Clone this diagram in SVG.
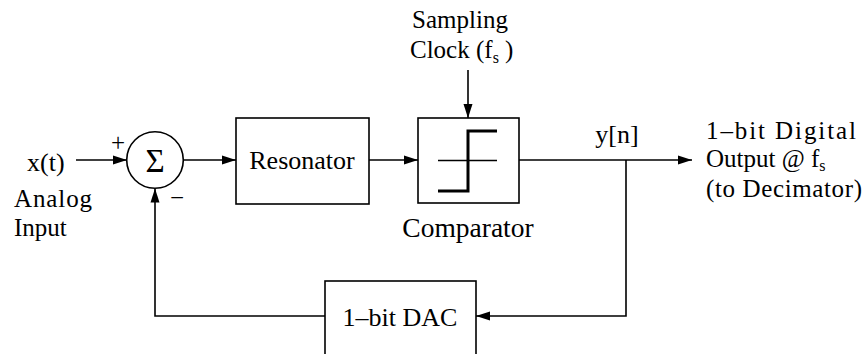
<svg xmlns="http://www.w3.org/2000/svg" width="865" height="354" viewBox="0 0 865 354">
<style>
text{font-family:"Liberation Serif","Times New Roman",serif;fill:#000;font-size:26px}
.lbl{font-size:25px}
.box{fill:#fff;stroke:#000;stroke-width:1.6}
.ln{fill:none;stroke:#000;stroke-width:1.6}
.mid{text-anchor:middle}
.sub{font-size:16px}
</style>
<defs>
<marker id="ah" markerUnits="userSpaceOnUse" markerWidth="16" markerHeight="10" refX="14" refY="5" orient="auto">
<path d="M0,0.5 L14,5 L0,9.5 Z" fill="#000"/>
</marker>
</defs>
<rect width="865" height="354" fill="#fff"/>
<g id="connectors">
<line class="ln" x1="76" y1="160" x2="127" y2="160" marker-end="url(#ah)"/>
<line class="ln" x1="183.5" y1="160" x2="236" y2="160" marker-end="url(#ah)"/>
<line class="ln" x1="369" y1="160" x2="418" y2="160" marker-end="url(#ah)"/>
<line class="ln" x1="468" y1="70" x2="468" y2="118" marker-end="url(#ah)"/>
<line class="ln" x1="519" y1="160" x2="692" y2="160" marker-end="url(#ah)"/>
<polyline class="ln" points="626,160 626,316 476,316" marker-end="url(#ah)"/>
<polyline class="ln" points="325,316 155,316 155,188.5" marker-end="url(#ah)"/>
</g>
<g id="input">
<text x="27" y="171">x(t)</text>
<text class="lbl" x="14" y="207" textLength="78">Analog</text>
<text class="lbl" x="14" y="236">Input</text>
</g>
<g id="sum">
<circle class="box" cx="155" cy="160" r="28.3"/>
<text class="mid" x="155" y="172" style="font-size:33px">Σ</text>
<text class="mid" x="118" y="151" style="font-size:25px">+</text>
<text class="mid" x="177" y="206" style="font-size:25px">−</text>
</g>
<g id="resonator">
<rect class="box" x="236" y="118" width="133" height="86"/>
<text class="mid" x="302" y="169">Resonator</text>
</g>
<g id="comparator">
<rect class="box" x="418" y="118" width="101" height="85"/>
<line x1="438" y1="160.5" x2="497" y2="160.5" stroke="#000" stroke-width="1.4"/>
<polyline points="438,191 468,191 468,131 497,131" fill="none" stroke="#000" stroke-width="3"/>
<text class="mid" x="468" y="237" style="font-size:27.5px">Comparator</text>
</g>
<g id="clock">
<text class="mid lbl" x="460" y="28">Sampling</text>
<text class="lbl" x="410" y="58">Clock (f<tspan class="sub" dy="5">s</tspan><tspan dy="-5"> )</tspan></text>
</g>
<g id="output">
<text class="mid" x="617" y="143">y[n]</text>
<text class="lbl" x="706" y="139" textLength="150">1–bit Digital</text>
<text class="lbl" x="706" y="167">Output @ f<tspan class="sub" dy="4">s</tspan></text>
<text class="lbl" x="706" y="197" textLength="156">(to Decimator)</text>
</g>
<g id="dac">
<rect class="box" x="325" y="281" width="151" height="90"/>
<text class="mid" x="400" y="326">1–bit DAC</text>
</g>
</svg>
